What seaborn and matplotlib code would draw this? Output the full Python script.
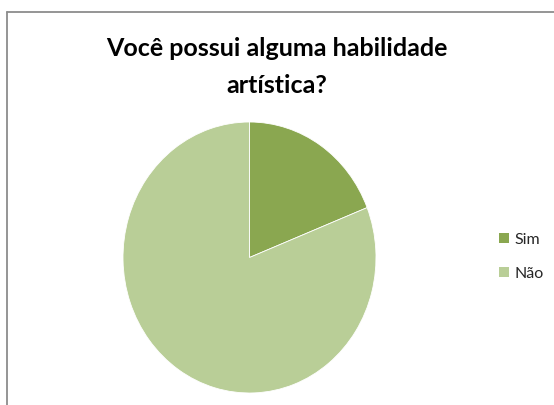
import matplotlib
matplotlib.use("Agg")
import matplotlib.pyplot as plt
import seaborn as sns
from matplotlib.lines import Line2D
from matplotlib.patches import Patch

# data
labels = ["Sim", "Não"]
values = [19, 81]
colors = ["#8AA750", "#B9CE97"]
title = "Você possui alguma habilidade\nartística?"

sns.set_theme(style="white")
plt.rcParams["font.family"] = ["Lato", "DejaVu Sans"]

W, H = 554, 405
fig = plt.figure(figsize=(W / 100, H / 100), dpi=100)

# pie box in pixels (slightly taller than wide, as in the picture)
px_left, px_top, px_w, px_h = 123, 122, 253, 271
ax = fig.add_axes([px_left / W, 1 - (px_top + px_h) / H, px_w / W, px_h / H])
ax.pie(values, colors=colors, startangle=90, counterclock=False,
       wedgeprops=dict(linewidth=0.6, edgecolor="white"))
ax.set_aspect("auto")
ax.set_xlim(-1, 1)
ax.set_ylim(-1, 1)
ax.axis("off")

# title
fig.text(0.5, 1 - 67 / H, title, ha="center", va="center", fontsize=18,
         fontweight="bold", color="black", linespacing=1.7)

# legend
handles = [Patch(facecolor=c, edgecolor="none") for c in colors]
fig.legend(handles, labels, loc="center left", bbox_to_anchor=(485 / W, 1 - 257 / H),
           frameon=False, fontsize=11.5, handlelength=0.6, handleheight=0.6,
           handletextpad=0.35, labelspacing=1.25)

# chart frame (only top and left edges are visible)
fig.add_artist(Line2D([7 / W, 1.01], [1 - 12 / H, 1 - 12 / H], color="#8c8c8c", lw=1.3))
fig.add_artist(Line2D([7 / W, 7 / W], [1 - 12 / H, -0.01], color="#8c8c8c", lw=1.3))

fig.savefig("out.png", dpi=100)
